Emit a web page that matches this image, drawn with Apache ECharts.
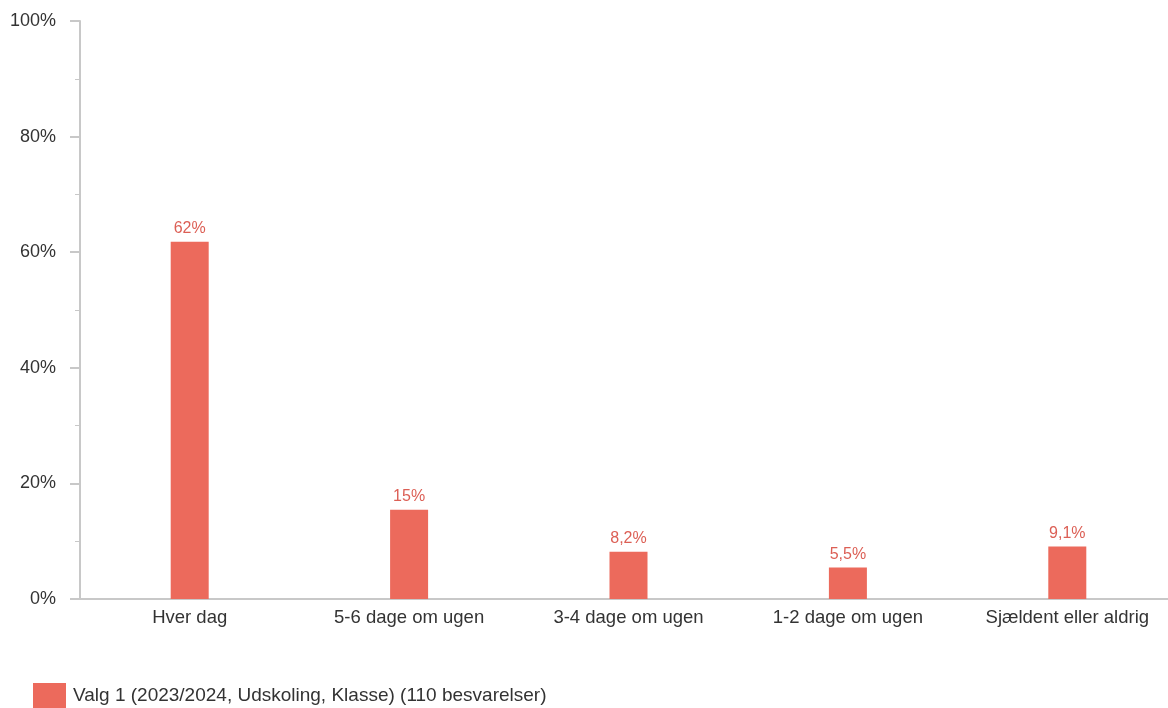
<!DOCTYPE html>
<html><head><meta charset="utf-8">
<script src="https://cdn.jsdelivr.net/npm/echarts@6/dist/echarts.min.js"></script>
<style>html,body{margin:0;padding:0;background:#fff;overflow:hidden}#c{width:1177px;height:708px}</style>
</head><body><div id="c"></div>
<script>
const categories = ['Hver dag', '5-6 dage om ugen', '3-4 dage om ugen', '1-2 dage om ugen', 'Sjældent eller aldrig'];
const values = [61.8, 15.45, 8.18, 5.45, 9.09];
const seriesName = 'Valg 1 (2023/2024, Udskoling, Klasse) (110 besvarelser)';
const yTicks = [0, 20, 40, 60, 80, 100];

function fmt(v) {
  const s = v >= 10 ? Math.round(v).toString() : (Math.round(v * 10) / 10).toFixed(1);
  return s.replace('.', ',') + '%';
}

const chart = echarts.init(document.getElementById('c'));
chart.setOption({
  animation: false,
  textStyle: { fontFamily: 'Liberation Sans, Arial, sans-serif' },
  grid: { left: 80, top: 21, right: 0, height: 578, containLabel: false },
  legend: {
    left: 33, top: 683, padding: 0, itemWidth: 33, itemHeight: 25, itemGap: 10,
    icon: 'rect',
    textStyle: { fontSize: 19, color: '#333', padding: [0, 0, 0, 2] },
    data: [seriesName]
  },
  xAxis: {
    type: 'category', data: categories,
    axisLine: { lineStyle: { color: '#c8c8c8', width: 2 } },
    axisTick: { show: false },
    axisLabel: { fontSize: 18.5, color: '#333', margin: 9 }
  },
  yAxis: {
    type: 'value', min: 0, max: 100, interval: 20,
    axisLine: { show: true, lineStyle: { color: '#c8c8c8', width: 2 } },
    axisTick: { show: true, length: 10, lineStyle: { color: '#c8c8c8', width: 2 } },
    minorTick: { show: true, splitNumber: 2, length: 5, lineStyle: { color: '#c8c8c8', width: 1 } },
    splitLine: { show: false },
    axisLabel: { fontSize: 18, color: '#333', margin: 24, formatter: v => yTicks.includes(v) ? v + '%' : '' }
  },
  series: [{
    name: seriesName, type: 'bar', data: values, barWidth: 38,
    itemStyle: { color: '#EC6A5C' },
    label: { show: true, position: 'top', distance: 5, fontSize: 16, color: '#DC5F55', formatter: p => fmt(p.value) }
  }]
});
</script></body></html>
